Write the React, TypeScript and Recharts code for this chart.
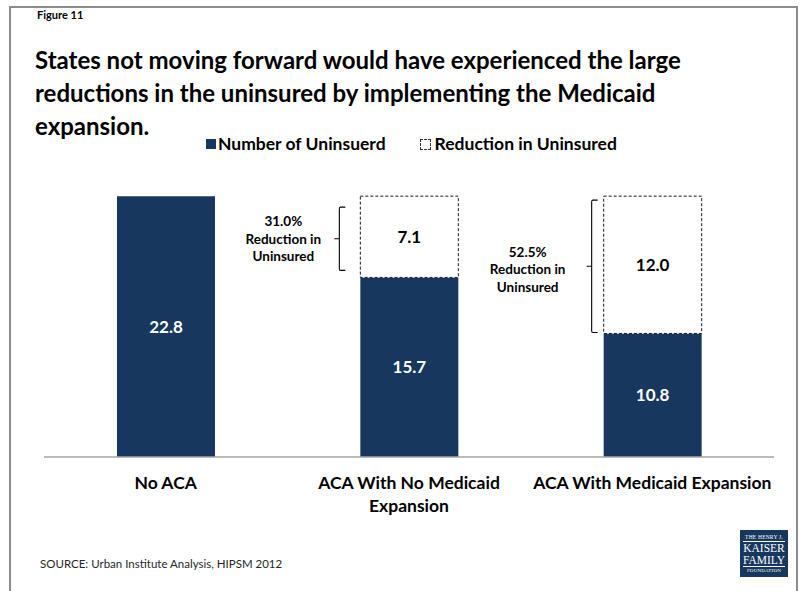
import React from 'react';
import { BarChart, Bar, XAxis, YAxis, LabelList, Legend } from 'recharts';

const categories = ['No ACA', 'ACA With No Medicaid Expansion', 'ACA With Medicaid Expansion'];
const categoryLines = [['No ACA'], ['ACA With No Medicaid', 'Expansion'], ['ACA With Medicaid Expansion']];
const uninsured = [22.8, 15.7, 10.8];
const reduction = [0, 7.1, 12.0];
const reductionNotes = [null, ['31.0%', 'Reduction in', 'Uninsured'], ['52.5%', 'Reduction in', 'Uninsured']];
const titleLines = [
  'States not moving forward would have experienced the large',
  'reductions in the uninsured by implementing the Medicaid',
  'expansion.',
];
const figureLabel = 'Figure 11';
const sourceText = 'SOURCE: Urban Institute Analysis, HIPSM 2012';
const logoLines = ['THE HENRY J.', 'KAISER', 'FAMILY', 'FOUNDATION'];

const data = categories.map((c, i) => ({ name: c, uninsured: uninsured[i], reduction: reduction[i] }));

const NAVY = '#17375E';
const FONT = 'Lato, "Open Sans", sans-serif';

// bracket layout relative to the dashed bar (style only)
const bracketStyle = [
  null,
  { gap: 21, topInset: 11, bottomInset: 7, textDx: 56, textDy: 0 },
  { gap: 12, topInset: 4, bottomInset: 1, textDx: 64, textDy: 3 },
];

const CategoryTick = (props: any) => {
  const { x, y, index } = props;
  const lines = categoryLines[index] || [String(props.payload?.value)];
  return (
    <g>
      {lines.map((l, i) => (
        <text key={i} x={x} y={y + 32 + i * 23} textAnchor="middle" fontFamily={FONT} fontWeight={700} fontSize={17.5} fill="#000">
          {l}
        </text>
      ))}
    </g>
  );
};

const UninsuredLabel = (props: any) => {
  const vb = props.viewBox || props;
  const { x, y, width, height } = vb;
  const v = props.value;
  if (v == null || !height) return null;
  return (
    <text x={x + width / 2} y={y + height / 2 + 6} textAnchor="middle" fontFamily={FONT} fontWeight={700} fontSize={17} fill="#fff">
      {Number(v).toFixed(1)}
    </text>
  );
};

const ReductionLabel = (props: any) => {
  const vb = props.viewBox || props;
  const { x, y, width, height } = vb;
  const v = props.value;
  if (!v || !height) return null;
  let idx = reduction.indexOf(Number(v));
  if (idx < 0) idx = props.index;
  const note = reductionNotes[idx];
  const bs = bracketStyle[idx];
  const cx = x + width / 2;
  const cy = y + height / 2;
  let bracket = null;
  if (note && bs) {
    const vx = x - bs.gap;
    const top = y + bs.topInset;
    const bot = y + height - bs.bottomInset;
    const mid = (top + bot) / 2;
    bracket = (
      <g>
        <path d={`M${vx + 6},${top} L${vx + 1},${top} Q${vx},${top} ${vx},${top + 2} L${vx},${bot - 2} Q${vx},${bot} ${vx + 1},${bot} L${vx + 6},${bot} M${vx},${mid} L${vx - 5},${mid}`} fill="none" stroke="#000" strokeWidth={1.1} />
        {note.map((l, i) => (
          <text key={i} x={vx - bs.textDx} y={mid + bs.textDy + (i - 1) * 17.5 + 5} textAnchor="middle" fontFamily={FONT} fontWeight={700} fontSize={13.5} fill="#000">
            {l}
          </text>
        ))}
      </g>
    );
  }
  return (
    <g>
      <text x={cx} y={cy + 6} textAnchor="middle" fontFamily={FONT} fontWeight={700} fontSize={17} fill="#000">
        {Number(v).toFixed(1)}
      </text>
      {bracket}
    </g>
  );
};

const LegendContent = (props: any) => {
  const items = props.payload || [];
  return (
    <div style={{ display: 'flex', justifyContent: 'flex-start', fontFamily: FONT, fontWeight: 700, fontSize: 17.5, lineHeight: '22px', color: '#000', paddingLeft: 206 }}>
      {items.map((it: any, i: number) => (
        <div key={i} style={{ display: 'flex', alignItems: 'center', marginRight: 34 }}>
          {it.dataKey === 'uninsured' ? (
            <span style={{ display: 'inline-block', width: 10, height: 10, background: NAVY, marginRight: 2 }} />
          ) : (
            <span style={{ display: 'inline-block', width: 9, height: 9, border: `1px dashed #333`, marginRight: 4 }} />
          )}
          <span>{it.value}</span>
        </div>
      ))}
    </div>
  );
};

export default function App() {
  return (
    <div style={{ position: 'absolute', left: 0, top: 0, width: 801, height: 591, background: '#fff', overflow: 'hidden' }}>
      <div style={{ position: 'absolute', left: 9, top: 6, width: 789, height: 700, border: '2px solid #8c8c8c', boxSizing: 'border-box' }} />
      <div style={{ position: 'absolute', left: 37, top: 8, fontFamily: FONT, fontWeight: 700, fontSize: 11, color: '#000' }}>{figureLabel}</div>
      {titleLines.map((l, i) => (
        <div key={i} style={{ position: 'absolute', left: 35, top: 46 + i * 33, fontFamily: FONT, fontWeight: 700, fontSize: 24, lineHeight: '28px', color: '#000', whiteSpace: 'nowrap' }}>
          {l}
        </div>
      ))}
      <BarChart width={801} height={591} data={data} margin={{ top: 171, right: 27, bottom: 0, left: 44 }} style={{ position: 'absolute', left: 0, top: 0 }}>
        <XAxis dataKey="name" height={134} tickLine={false} tickSize={0} tickMargin={0} axisLine={{ stroke: '#a6a6a6', strokeWidth: 1.5 }} tick={<CategoryTick />} interval={0} />
        <YAxis hide domain={[0, 25]} />
        <Legend layout="horizontal" verticalAlign="middle" align="center" content={<LegendContent />} wrapperStyle={{ top: 133, left: 0, width: 801 }} />
        <Bar dataKey="uninsured" name="Number of Uninsuerd" stackId="a" fill={NAVY} barSize={98} isAnimationActive={false}>
          <LabelList dataKey="uninsured" content={<UninsuredLabel />} />
        </Bar>
        <Bar dataKey="reduction" name="Reduction in Uninsured" stackId="a" fill="#fff" stroke="#1a1a1a" strokeWidth={1} strokeDasharray="3 2" barSize={98} isAnimationActive={false}>
          <LabelList dataKey="reduction" content={<ReductionLabel />} />
        </Bar>
      </BarChart>
      <div style={{ position: 'absolute', left: 40, top: 557, fontFamily: FONT, fontSize: 11.5, color: '#262626' }}>{sourceText}</div>
      <div style={{ position: 'absolute', left: 740, top: 530, width: 48, height: 47, background: NAVY, color: '#fff', fontFamily: '"Liberation Serif", "DejaVu Serif", serif', textAlign: 'center', display: 'flex', flexDirection: 'column', justifyContent: 'center', alignItems: 'center' }}>
        <div style={{ fontSize: 5.5, lineHeight: '8px', letterSpacing: 0.2 }}>{logoLines[0]}</div>
        <div style={{ fontSize: 11.5, lineHeight: '12px', borderTop: '1px solid #fff' }}>{logoLines[1]}</div>
        <div style={{ fontSize: 11.5, lineHeight: '12px', borderBottom: '1px solid #fff' }}>{logoLines[2]}</div>
        <div style={{ fontSize: 5, lineHeight: '8px', letterSpacing: 0.2 }}>{logoLines[3]}</div>
      </div>
    </div>
  );
}
